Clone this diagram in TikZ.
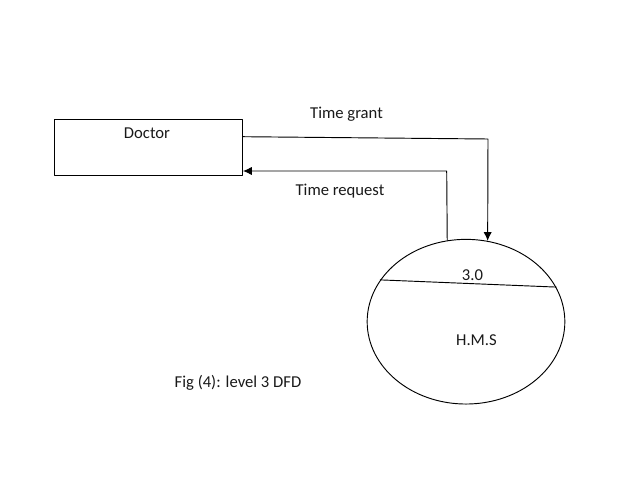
\documentclass[tikz,border=0pt]{standalone}
\usepackage{fontspec}
\setmainfont{Carlito}
\usetikzlibrary{arrows.meta,shapes.geometric}
\begin{document}
\begin{tikzpicture}[x=0.03cm, y=-0.03cm, line cap=round, line join=round,
    box/.style={draw, line width=0.8pt, minimum width=5.64cm, minimum height=1.68cm, inner sep=0pt},
    proc/.style={draw, ellipse, line width=0.8pt, minimum width=5.93cm, minimum height=4.94cm, inner sep=0pt},
    flow/.style={line width=0.8pt, -{Latex[length=7.5pt,width=7pt]}},
    lab/.style={inner sep=1pt, text=black!90, font=\fontsize{14.2}{16}\selectfont}]
  \useasboundingbox (0,0) rectangle (638,479);
  \node[box] (doc) at (148.5,147) {};
  \node[lab] (doclab) at (147,133) {Doctor};
  \node[proc] (hms) at (466,321.7) {};
  \draw[line width=0.8pt] (hms.154.5) -- (hms.21.5);
  \node[lab] (num) at (472.5,275) {3.0};
  \node[lab] (name) at (476.5,340) {H.M.S};
  % time grant: doctor to process
  \coordinate (g1) at (242.7,136.7);
  \coordinate (g2) at (488,139);
  \draw[flow] (g1) -- (g2) -- (hms.75);
  \node[lab] (grant) at (346.5,114) {Time grant};
  % time request: process to doctor
  \coordinate (r1) at (446.7,171);
  \draw[flow] (hms.103.5) -- (r1) -- (doc.east |- r1);
  \node[lab] (req) at (340,191.5) {Time request};
  \node[lab] (cap) at (238,383) {Fig (4): level 3 DFD};
\end{tikzpicture}
\end{document}
